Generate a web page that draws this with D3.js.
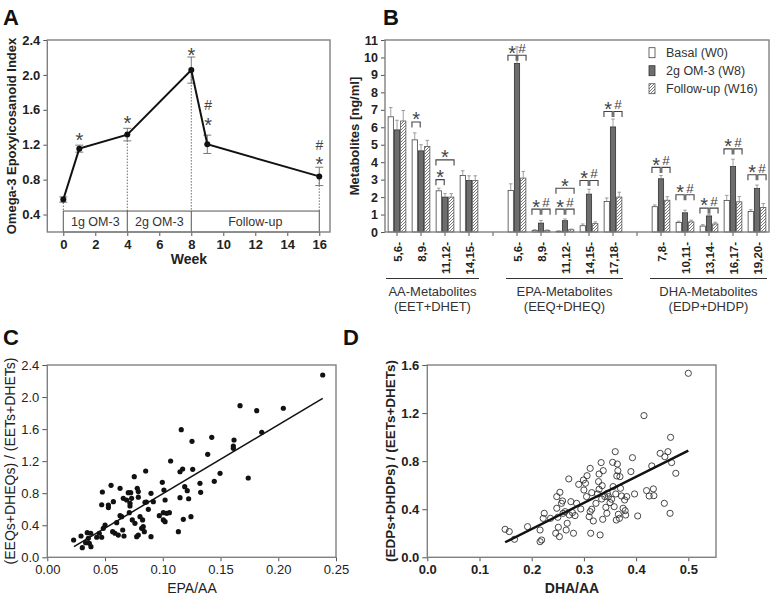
<!DOCTYPE html>
<html>
<head>
<meta charset="utf-8">
<script src="https://cdn.jsdelivr.net/npm/d3@7"></script>
<style>
  body { margin: 0; background: #fff; }
  svg { display: block; font-family: "Liberation Sans", Arial, sans-serif; }
</style>
</head>
<body>
<svg id="fig" width="771" height="595"></svg>
<script>
// ---- panel A: epoxyicosanoid index over time
const weeks = [0, 1, 4, 8, 9, 16];
const epoxIndex = [0.572, 1.155, 1.316, 2.055, 1.205, 0.837];
const epoxErr = [0.03, 0.04, 0.072, 0.15, 0.105, 0.105];
const weekTicks = [0, 2, 4, 6, 8, 10, 12, 14, 16];
const indexTicks = [0.4, 0.8, 1.2, 1.6, 2.0, 2.4];
const phaseBounds = [0, 4, 8, 16];
const phaseLabels = ["1g OM-3", "2g OM-3", "Follow-up"];
const sigA = [[1, "*", 1.31], [4, "*", 1.50], [8, "*", 2.28], [9.05, "#", 1.66], [9.05, "*", 1.48], [16, "#", 1.20], [16, "*", 1.03]];

// ---- panel B: metabolites
const groupNames = ["AA-Metabolites", "EPA-Metabolites", "DHA-Metabolites"];
const groupSubs = ["(EET+DHET)", "(EEQ+DHEQ)", "(EDP+DHDP)"];
const catGroups = ["AA", "AA", "AA", "AA", "EPA", "EPA", "EPA", "EPA", "EPA", "DHA", "DHA", "DHA", "DHA", "DHA"];
const catLabels = ["5,6-", "8,9-", "11,12-", "14,15-", "5,6-", "8,9-", "11,12-", "14,15-", "17,18-", "7,8-", "10,11-", "13,14-", "16,17-", "19,20-"];
const seriesNames = ["Basal (W0)", "2g OM-3 (W8)", "Follow-up (W16)"];
const basal = [6.6, 5.28, 2.36, 3.24, 2.38, 0.08, 0.04, 0.36, 1.75, 1.45, 0.54, 0.34, 1.8, 1.18];
const w8 = [5.85, 4.65, 2.0, 2.95, 9.66, 0.51, 0.65, 2.17, 6.02, 3.05, 1.1, 0.92, 3.75, 2.5];
const w16 = [6.36, 4.9, 2.0, 2.95, 3.09, 0.08, 0.13, 0.48, 2.0, 1.82, 0.58, 0.46, 1.73, 1.4];
const basalErr = [0.53, 0.4, 0.15, 0.27, 0.38, 0.05, 0.03, 0.1, 0.2, 0.1, 0.08, 0.08, 0.3, 0.1];
const w8Err = [0.55, 0.35, 0.2, 0.27, 0.95, 0.15, 0.1, 0.28, 0.45, 0.19, 0.15, 0.1, 0.42, 0.19];
const w16Err = [0.6, 0.35, 0.2, 0.27, 0.38, 0.04, 0.04, 0.1, 0.28, 0.2, 0.1, 0.1, 0.3, 0.23];
const metabTicks = d3.range(0, 12);
// [category index, from series, to series, symbol, level]
const sigB = [
  [1, 0, 1, "*", 6.3],
  [2, 0, 1, "*", 3.0], [2, 0, 2, "*", 4.13],
  [4, 0, 1, "*", 10.13], [4, 1, 2, "#", 10.13],
  [5, 0, 1, "*", 1.31], [5, 1, 2, "#", 1.31],
  [6, 0, 1, "*", 1.31], [6, 1, 2, "#", 1.31], [6, 0, 2, "*", 2.51],
  [7, 0, 1, "*", 2.95], [7, 1, 2, "#", 2.95],
  [8, 0, 1, "*", 6.9], [8, 1, 2, "#", 6.9],
  [9, 0, 1, "*", 3.7], [9, 1, 2, "#", 3.7],
  [10, 0, 1, "*", 2.13], [10, 1, 2, "#", 2.13],
  [11, 0, 1, "*", 1.37], [11, 1, 2, "#", 1.37],
  [12, 0, 1, "*", 4.76], [12, 1, 2, "#", 4.76],
  [13, 0, 1, "*", 3.28], [13, 1, 2, "#", 3.28]
];

// ---- panel C: EPA/AA vs (EEQs+DHEQs)/(EETs+DHETs)
const epaTicks = [0, 0.05, 0.10, 0.15, 0.20, 0.25];
const ratioCTicks = [0, 0.4, 0.8, 1.2, 1.6, 2.0, 2.4];
const pointsC = [
  [0.0228,0.216],[0.0292,0.266],[0.0303,0.12],[0.0332,0.182],[0.0346,0.307],[0.0376,0.30],[0.0378,0.133],
  [0.0355,0.237],[0.0364,0.175],[0.0428,0.25],[0.045,0.30],[0.0471,0.25],[0.0485,0.362],[0.05,0.403],
  [0.0477,0.815],[0.0471,0.656],[0.0529,0.653],[0.0529,0.62],[0.0552,0.898],[0.0572,0.694],[0.0586,0.30],
  [0.0566,0.32],[0.0615,0.278],[0.0601,0.432],[0.063,0.861],[0.0644,0.507],[0.063,0.52],[0.0658,0.736],
  [0.0653,0.341],[0.0664,0.266],[0.0687,0.715],[0.0701,0.806],[0.0716,0.674],[0.0716,0.64],[0.0722,0.806],
  [0.073,0.736],[0.071,0.557],[0.0736,0.466],[0.0753,1.006],[0.0759,0.424],[0.0774,0.257],[0.0788,0.278],
  [0.0779,0.861],[0.0788,0.82],[0.0788,0.75],[0.0803,0.507],[0.0817,0.362],[0.0831,0.382],[0.0825,0.466],
  [0.0846,0.686],[0.0852,1.077],[0.084,0.32],[0.0858,0.69],[0.0875,0.599],[0.0898,0.799],[0.0898,0.257],
  [0.0918,0.694],[0.097,0.519],[0.0996,0.936],[0.101,0.84],[0.102,0.715],[0.1005,0.557],[0.1034,0.549],
  [0.1057,0.557],[0.102,0.444],[0.1005,0.466],[0.1068,1.202],[0.1135,0.32],
  [0.2385,2.275],[0.1669,1.892],[0.1813,1.83],[0.2044,1.86],[0.1857,1.56],[0.116,1.593],[0.1253,1.447],
  [0.1424,1.497],[0.1617,1.464],[0.1611,1.389],[0.1611,1.36],[0.1389,1.285],[0.1172,1.102],[0.1259,1.098],
  [0.1149,1.068],[0.1496,1.048],[0.174,0.99],[0.1446,0.948],[0.1322,0.923],[0.1328,0.811],[0.119,0.881],
  [0.1212,0.831],[0.1149,0.744],[0.1224,0.731],[0.1244,0.507],[0.1178,0.474]
];
const fitC = [[0.0231, 0.133], [0.2385, 1.984]];

// ---- panel D: DHA/AA vs (EDPs+DHDPs)/(EETs+DHETs)
const dhaTicks = [0, 0.1, 0.2, 0.3, 0.4, 0.5];
const ratioDTicks = [0, 0.4, 0.8, 1.2, 1.6];
const pointsD = [
  [0.149,0.233],[0.157,0.214],[0.167,0.15],[0.192,0.255],[0.216,0.227],[0.216,0.13],[0.219,0.144],
  [0.222,0.324],[0.224,0.366],[0.236,0.324],[0.246,0.2],[0.248,0.505],[0.248,0.408],[0.25,0.333],
  [0.251,0.25],[0.253,0.172],[0.254,0.541],[0.257,0.449],[0.259,0.469],[0.26,0.366],[0.264,0.38],
  [0.266,0.227],[0.268,0.283],[0.271,0.652],[0.272,0.352],[0.275,0.463],[0.278,0.372],[0.28,0.2],
  [0.283,0.347],[0.286,0.449],[0.29,0.607],[0.294,0.402],[0.299,0.643],[0.3,0.56],[0.303,0.616],
  [0.305,0.505],[0.306,0.679],[0.31,0.338],[0.312,0.74],[0.312,0.38],[0.313,0.2],[0.315,0.538],
  [0.315,0.4],[0.318,0.302],[0.323,0.449],[0.326,0.527],[0.328,0.63],[0.329,0.693],[0.329,0.566],
  [0.331,0.186],[0.333,0.788],[0.334,0.485],[0.335,0.596],[0.336,0.316],[0.337,0.721],[0.34,0.505],
  [0.342,0.416],[0.344,0.366],[0.345,0.532],[0.347,0.505],[0.35,0.455],[0.353,0.483],[0.355,0.79],
  [0.356,0.588],[0.358,0.421],[0.36,0.879],[0.361,0.527],[0.362,0.31],[0.363,0.677],[0.364,0.776],
  [0.365,0.721],[0.366,0.358],[0.368,0.324],[0.369,0.671],[0.37,0.574],[0.372,0.51],[0.375,0.408],
  [0.378,0.477],[0.379,0.388],[0.38,0.352],[0.382,0.505],[0.39,0.713],[0.393,0.829],[0.397,0.527],
  [0.403,0.344],[0.415,1.179],[0.42,0.555],[0.425,0.51],[0.43,0.76],[0.433,0.569],[0.434,0.513],
  [0.446,0.865],[0.454,0.449],[0.455,0.837],[0.461,0.879],[0.466,0.998],[0.465,0.366],[0.468,0.788],
  [0.476,0.699],[0.5,1.531]
];
const fitD = [[0.149, 0.125], [0.5, 0.887]];

const svg = d3.select("#fig");
const FRAME = "#808080";
const TXT = "#222";

const defs = svg.append("defs");
defs.append("pattern")
  .attr("id", "hatch")
  .attr("patternUnits", "userSpaceOnUse")
  .attr("width", 3).attr("height", 3)
  .append("path")
  .attr("d", "M-1,1 l2,-2 M0,3 l3,-3 M2,4 l2,-2")
  .attr("stroke", "#555")
  .attr("stroke-width", 0.8);

const styleAxis = (g, size, bold) => {
  g.select(".domain").remove();
  g.selectAll(".tick line").attr("stroke", "#555");
  g.selectAll(".tick text")
    .attr("fill", TXT)
    .attr("font-size", size)
    .attr("font-weight", bold ? "bold" : "normal")
    .attr("font-family", "Liberation Sans, Arial, sans-serif");
};

const frame = (x, y) => {
  svg.append("rect")
    .attr("x", x.range()[0]).attr("y", y.range()[1])
    .attr("width", x.range()[1] - x.range()[0])
    .attr("height", y.range()[0] - y.range()[1])
    .attr("fill", "none")
    .attr("stroke", FRAME)
    .attr("stroke-width", 1.4);
};

const sigText = (g, x, cy, s, starSize, hashSize) => {
  const fs = s === "*" ? starSize : hashSize;
  const off = s === "*" ? 0.57 * fs : 0.36 * fs;
  g.append("text")
    .attr("x", x).attr("y", cy + off)
    .attr("text-anchor", "middle")
    .attr("font-size", fs)
    .attr("fill", "#444")
    .text(s);
};

const panelLetter = (t, x, y) => {
  svg.append("text").attr("x", x).attr("y", y)
    .attr("font-size", 22).attr("font-weight", "bold").attr("fill", "#111")
    .text(t);
};

const yLabel = (t, x, y, size, bold) => {
  svg.append("text")
    .attr("transform", `translate(${x},${y}) rotate(-90)`)
    .attr("text-anchor", "middle")
    .attr("font-size", size)
    .attr("font-weight", bold ? "bold" : "normal")
    .attr("fill", TXT)
    .text(t);
};

const xLabel = (t, x, y, size, bold) => {
  svg.append("text")
    .attr("x", x).attr("y", y)
    .attr("text-anchor", "middle")
    .attr("font-size", size)
    .attr("font-weight", bold ? "bold" : "normal")
    .attr("fill", TXT)
    .text(t);
};

// ================= Panel A =================
const xA = d3.scaleLinear().domain([-1, 16.67]).range([47.3, 330]);
const yA = d3.scaleLinear().domain([0.2, 2.4]).range([232, 40]);
const gA = svg.append("g");

const boxTop = 0.44;
// phase box
gA.append("rect")
  .attr("x", xA(phaseBounds[0])).attr("y", yA(boxTop))
  .attr("width", xA(phaseBounds[3]) - xA(phaseBounds[0]))
  .attr("height", yA(0.2) - yA(boxTop))
  .attr("fill", "none").attr("stroke", "#555").attr("stroke-width", 1);
gA.selectAll(".div").data(phaseBounds.slice(1, 3)).enter().append("line")
  .attr("x1", d => xA(d)).attr("x2", d => xA(d))
  .attr("y1", yA(boxTop)).attr("y2", yA(0.2))
  .attr("stroke", "#555");
gA.selectAll(".phase").data(phaseLabels).enter().append("text")
  .attr("x", (d, i) => (xA(phaseBounds[i]) + xA(phaseBounds[i + 1])) / 2)
  .attr("y", (yA(boxTop) + yA(0.2)) / 2 + 4.5)
  .attr("text-anchor", "middle")
  .attr("font-size", 12.5)
  .attr("fill", "#333")
  .text(d => d);

// dotted drop lines
gA.selectAll(".drop").data(phaseBounds).enter().append("line")
  .attr("x1", d => xA(d)).attr("x2", d => xA(d))
  .attr("y1", d => yA(epoxIndex[weeks.indexOf(d)]))
  .attr("y2", yA(boxTop))
  .attr("stroke", "#444").attr("stroke-width", 0.8)
  .attr("stroke-dasharray", "1.5,1.5");

frame(xA, yA);

const axA = gA.append("g").attr("transform", `translate(0,${yA(0.2)})`)
  .call(d3.axisBottom(xA).tickValues(weekTicks).tickSize(4).tickPadding(4).tickSizeOuter(0));
styleAxis(axA, 13, true);
const ayA = gA.append("g").attr("transform", `translate(${xA(-1)},0)`)
  .call(d3.axisLeft(yA).tickValues(indexTicks).tickFormat(d3.format(".1f")).tickSize(4).tickPadding(3).tickSizeOuter(0));
styleAxis(ayA, 13, true);

// error bars
weeks.forEach((w, i) => {
  const x = xA(w);
  const y0 = yA(epoxIndex[i] - epoxErr[i]);
  const y1 = yA(epoxIndex[i] + epoxErr[i]);
  gA.append("line").attr("x1", x).attr("x2", x).attr("y1", y0).attr("y2", y1).attr("stroke", "#777");
  [y0, y1].forEach(yy => gA.append("line").attr("x1", x - 4).attr("x2", x + 4).attr("y1", yy).attr("y2", yy).attr("stroke", "#777"));
});

gA.append("path")
  .datum(weeks.map((w, i) => [w, epoxIndex[i]]))
  .attr("d", d3.line().x(d => xA(d[0])).y(d => yA(d[1])))
  .attr("fill", "none").attr("stroke", "#111").attr("stroke-width", 2);
gA.selectAll(".pt").data(weeks).enter().append("circle")
  .attr("cx", d => xA(d)).attr("cy", (d, i) => yA(epoxIndex[i]))
  .attr("r", 3).attr("fill", "#111");

sigA.forEach(s => sigText(gA, xA(s[0]), yA(s[2]), s[1], 20, 14));

panelLetter("A", 3, 25);
yLabel("Omega-3 Epoxyicosanoid Index", 16, 136, 13, true);
xLabel("Week", 189, 264, 14, true);

// ================= Panel B =================
const slots = [];
catLabels.forEach((l, i) => {
  if (i > 0 && catGroups[i] !== catGroups[i - 1]) slots.push("gap" + i);
  slots.push(catGroups[i] + " " + l);
});
const catKey = i => catGroups[i] + " " + catLabels[i];
const xB = d3.scaleBand().domain(slots).range([385, 769]).padding(0);
const xB1 = d3.scaleBand().domain([0, 1, 2]).range([0, xB.bandwidth()]).paddingInner(0.16).paddingOuter(0.5);
const yB = d3.scaleLinear().domain([0, 11]).range([232, 40]);
const gB = svg.append("g");

frame(d3.scaleLinear().range([385, 769]), yB);

const axB = gB.append("g").attr("transform", `translate(0,${yB(0)})`)
  .call(d3.axisBottom(xB).tickFormat("").tickSize(4).tickSizeOuter(0));
styleAxis(axB, 11, true);
const ayB = gB.append("g").attr("transform", "translate(385,0)")
  .call(d3.axisLeft(yB).tickValues(metabTicks).tickSize(4).tickPadding(3).tickSizeOuter(0));
styleAxis(ayB, 12.5, true);

const seriesVals = [basal, w8, w16];
const seriesErr = [basalErr, w8Err, w16Err];
const seriesFill = ["#fff", "#6d6d6d", "url(#hatch)"];
const seriesStroke = ["#444", "#333", "#555"];
const barCx = (i, s) => xB(catKey(i)) + xB1(s) + xB1.bandwidth() / 2;

seriesVals.forEach((vals, s) => {
  gB.selectAll(".bar" + s).data(vals).enter().append("rect")
    .attr("x", (d, i) => xB(catKey(i)) + xB1(s))
    .attr("y", d => yB(d))
    .attr("width", xB1.bandwidth())
    .attr("height", d => yB(0) - yB(d))
    .attr("fill", seriesFill[s])
    .attr("stroke", seriesStroke[s])
    .attr("stroke-width", 0.8);
  vals.forEach((v, i) => {
    const cx = barCx(i, s);
    const top = yB(v + seriesErr[s][i]);
    gB.append("line").attr("x1", cx).attr("x2", cx).attr("y1", yB(v)).attr("y2", top).attr("stroke", "#888").attr("stroke-width", 0.8);
    gB.append("line").attr("x1", cx - 1.8).attr("x2", cx + 1.8).attr("y1", top).attr("y2", top).attr("stroke", "#888").attr("stroke-width", 0.8);
  });
});

// significance brackets
sigB.forEach(([ci, a, b, s, lvl]) => {
  let x1 = barCx(ci, a), x2 = barCx(ci, b);
  if (b - a === 1) {
    if (a === 0) { x1 -= 2.8; x2 -= 0.8; } else { x1 += 0.8; x2 += 2.8; }
  } else {
    x1 -= 2.8; x2 += 2.8;
  }
  const yt = yB(lvl);
  gB.append("path")
    .attr("d", `M${x1},${yt + 5.5}V${yt}H${x2}V${yt + 5.5}`)
    .attr("fill", "none").attr("stroke", "#444").attr("stroke-width", 1.1);
  sigText(gB, (x1 + x2) / 2, yt - 7, s, 20, 13.5);
});

// category labels
catLabels.forEach((l, i) => {
  const cx = xB(catKey(i)) + xB.bandwidth() / 2;
  gB.append("text")
    .attr("transform", `translate(${cx + 1},242) rotate(-90)`)
    .attr("text-anchor", "end")
    .attr("dy", "0.35em")
    .attr("font-size", 11.5).attr("font-weight", "bold").attr("fill", TXT)
    .text(l);
});

// group underlines and names
["AA", "EPA", "DHA"].forEach((grp, gi) => {
  const idx = catGroups.map((g, i) => g === grp ? i : -1).filter(i => i >= 0);
  const xa = xB(catKey(idx[0])) + 1;
  const xb = xB(catKey(idx[idx.length - 1])) + xB.bandwidth() - 2;
  gB.append("line").attr("x1", xa).attr("x2", xb).attr("y1", 278.5).attr("y2", 278.5).attr("stroke", "#333").attr("stroke-width", 1);
  gB.append("text").attr("x", (xa + xb) / 2).attr("y", 296).attr("text-anchor", "middle")
    .attr("font-size", 13).attr("fill", "#333").text(groupNames[gi]);
  gB.append("text").attr("x", (xa + xb) / 2).attr("y", 311).attr("text-anchor", "middle")
    .attr("font-size", 13).attr("fill", "#333").text(groupSubs[gi]);
});

// legend
seriesNames.forEach((n, s) => {
  const cy = 52.7 + s * 18;
  gB.append("rect").attr("x", 649).attr("y", cy - 5).attr("width", 6).attr("height", 10)
    .attr("fill", seriesFill[s]).attr("stroke", seriesStroke[s]).attr("stroke-width", 0.8);
  gB.append("text").attr("x", 666).attr("y", cy + 4.5)
    .attr("font-size", 12.5).attr("fill", "#333").text(n);
});

panelLetter("B", 383, 25);
yLabel("Metabolites [ng/ml]", 359, 136, 13, true);

// ================= Panel C =================
const xC = d3.scaleLinear().domain([0, 0.25]).range([47.3, 336]);
const yC = d3.scaleLinear().domain([0, 2.4]).range([557.3, 365]);
const gC = svg.append("g");
frame(xC, yC);
const axC = gC.append("g").attr("transform", `translate(0,${yC(0)})`)
  .call(d3.axisBottom(xC).tickValues(epaTicks).tickFormat(d3.format(".2f")).tickSize(4).tickPadding(3).tickSizeOuter(0));
styleAxis(axC, 13, false);
const ayC = gC.append("g").attr("transform", `translate(${xC(0)},0)`)
  .call(d3.axisLeft(yC).tickValues(ratioCTicks).tickFormat(d3.format(".1f")).tickSize(5).tickPadding(3).tickSizeOuter(0));
styleAxis(ayC, 13, false);
gC.selectAll(".pc").data(pointsC).enter().append("circle")
  .attr("cx", d => xC(d[0])).attr("cy", d => yC(d[1]))
  .attr("r", 2.6).attr("fill", "#111");
gC.append("path").datum(fitC)
  .attr("d", d3.line().x(d => xC(d[0])).y(d => yC(d[1])))
  .attr("stroke", "#111").attr("stroke-width", 1.5).attr("fill", "none");
panelLetter("C", 3, 345);
yLabel("(EEQs+DHEQs) / (EETs+DHETs)", 15, 461, 14, false);
xLabel("EPA/AA", 192, 593, 14, false);

// ================= Panel D =================
const xD = d3.scaleLinear().domain([0, 0.553]).range([427.3, 716]);
const yD = d3.scaleLinear().domain([0, 1.6]).range([557.3, 365]);
const gD = svg.append("g");
frame(xD, yD);
const axD = gD.append("g").attr("transform", `translate(0,${yD(0)})`)
  .call(d3.axisBottom(xD).tickValues(dhaTicks).tickFormat(d3.format(".1f")).tickSize(4).tickPadding(3).tickSizeOuter(0));
styleAxis(axD, 13, true);
const ayD = gD.append("g").attr("transform", `translate(${xD(0)},0)`)
  .call(d3.axisLeft(yD).tickValues(ratioDTicks).tickFormat(d3.format(".1f")).tickSize(5).tickPadding(3).tickSizeOuter(0));
styleAxis(ayD, 13, true);
gD.selectAll(".pd").data(pointsD).enter().append("circle")
  .attr("cx", d => xD(d[0])).attr("cy", d => yD(d[1]))
  .attr("r", 3.1).attr("fill", "none").attr("stroke", "#333").attr("stroke-width", 0.9);
gD.append("path").datum(fitD)
  .attr("d", d3.line().x(d => xD(d[0])).y(d => yD(d[1])))
  .attr("stroke", "#111").attr("stroke-width", 2.4).attr("fill", "none");
panelLetter("D", 343, 345);
yLabel("(EDPs+DHDPs) / (EETs+DHETs)", 395, 461, 13.5, true);
xLabel("DHA/AA", 572, 593, 14, true);
</script>
</body>
</html>
